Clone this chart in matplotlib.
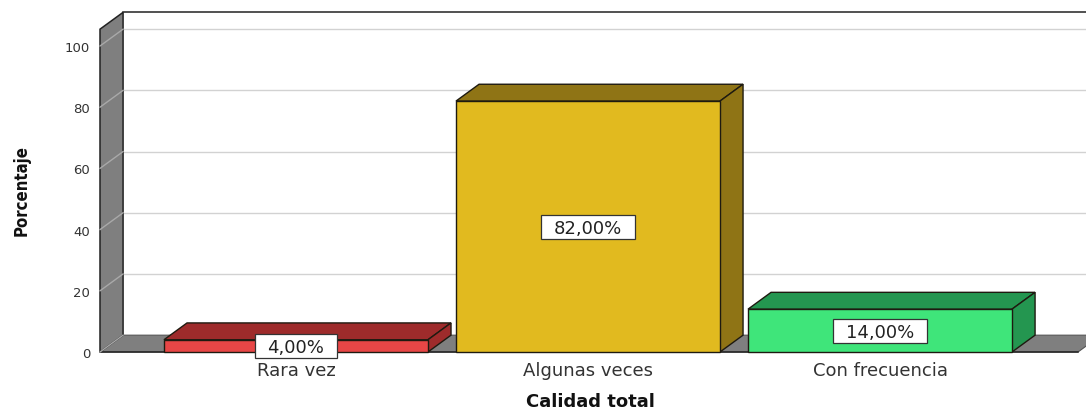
import matplotlib
matplotlib.use("Agg")
import matplotlib.pyplot as plt
from matplotlib.patches import Polygon, Rectangle
from matplotlib.transforms import ScaledTranslation
from matplotlib import font_manager

# ---- data -------------------------------------------------------------
categories = ["Rara vez", "Algunas veces", "Con frecuencia"]
percentages = [4.0, 82.0, 14.0]
value_labels = ["4,00%", "82,00%", "14,00%"]
y_ticks = [0, 20, 40, 60, 80, 100]
x_title = "Calidad total"
y_title = "Porcentaje"

# ---- style ------------------------------------------------------------
front_colors = ["#E84646", "#E1BA1F", "#3FE57A"]
shade_colors = ["#9E2B2B", "#8F7415", "#249650"]
wall_color = "#7F7F7F"
edge_color = "#1E1A10"

XL, XR = -0.671, 2.678      # front floor extent (data x)
TOP = 105.5                  # wall height (data y)
DX, DY = 0.079, 5.5          # depth offset of the pseudo-3D box
BAR_W = 0.904
LABEL_SIZE = 13

fig = plt.figure(figsize=(10.86, 4.10), dpi=100, facecolor="white")
ax = fig.add_axes([100 / 1086, 57 / 410, 978 / 1086, TOP * 3.06 / 410])
ax.patch.set_visible(False)
ax.set_xlim(XL, XR)
ax.set_ylim(0, TOP)
for s in ax.spines.values():
    s.set_visible(False)


def poly(points, fc, ec=edge_color, lw=1.0, z=1):
    ax.add_patch(Polygon(points, closed=True, facecolor=fc, edgecolor=ec,
                         linewidth=lw, zorder=z, clip_on=False,
                         joinstyle="miter"))


# back wall
poly([(XL + DX, DY), (XR + DX, DY), (XR + DX, TOP + DY), (XL + DX, TOP + DY)],
     "white", ec="none", z=0)
ax.plot([XL + DX, XR + DX], [TOP + DY] * 2, color="#222222", lw=1.1,
        zorder=0.5, clip_on=False)
for v in y_ticks[1:]:
    ax.plot([XL + DX, XR + DX], [v + DY] * 2, color="#D2D2D2", lw=1.0,
            zorder=0.6, clip_on=False)

# floor and left wall
poly([(XL, 0), (XR, 0), (XR + DX, DY), (XL + DX, DY)], wall_color,
     ec="#555555", lw=0.8, z=1)
poly([(XL, 0), (XL, TOP), (XL + DX, TOP + DY), (XL + DX, DY)], wall_color,
     ec="#222222", lw=1.1, z=1.1)
ax.plot([XL, XR], [0, 0], color="#222222", lw=1.1, zorder=1.2, clip_on=False)
for v in y_ticks:
    ax.plot([XL, XL + DX], [v, v + DY], color="#A9A9A9", lw=1.0,
            zorder=1.3, clip_on=False)

# bars with value labels (baseline dropped by half the cap height so the
# digits sit visually centred at value / 2)
cap_px = 0.73 * LABEL_SIZE * fig.dpi / 72
text_tf = ax.transData + ScaledTranslation(0, -cap_px / 2 / fig.dpi,
                                           fig.dpi_scale_trans)
value_texts = []
for i, (v, fc, sc) in enumerate(zip(percentages, front_colors, shade_colors)):
    x0, x1 = i - BAR_W / 2, i + BAR_W / 2
    poly([(x0, v), (x1, v), (x1 + DX, v + DY), (x0 + DX, v + DY)], sc, z=2)
    poly([(x1, 0), (x1 + DX, DY), (x1 + DX, v + DY), (x1, v)], sc, z=2)
    poly([(x0, 0), (x1, 0), (x1, v), (x0, v)], fc, z=2.1)
    t = ax.text(i, v / 2, value_labels[i], ha="center", va="baseline",
                fontsize=LABEL_SIZE, color="#222222", zorder=6,
                transform=text_tf)
    value_texts.append((i, v, t))

# axes text
ax.set_yticks(y_ticks)
ax.tick_params(axis="y", length=0, pad=7, labelsize=9.5, labelcolor="#333333")
ax.set_xticks(range(len(categories)), categories)
ax.tick_params(axis="x", length=0, pad=6.7, labelsize=13, labelcolor="#333333")

cond_bold = [f for f in font_manager.fontManager.ttflist
             if f.name == "DejaVu Sans" and f.stretch == "condensed"
             and f.weight in ("bold", 700)]
if cond_bold:
    ytitle_kw = dict(family="DejaVu Sans", fontstretch="condensed", fontsize=12)
else:
    ytitle_kw = dict(family="DejaVu Sans", fontsize=10.5)
fig.text(22 / 1086, (410 - 191) / 410, y_title, rotation=90, ha="center",
         va="center", fontweight="bold", color="#111111", **ytitle_kw)
fig.text(590 / 1086, (410 - 407) / 410, x_title, ha="center", va="baseline",
         fontsize=13, fontweight="bold", color="#111111")

# white boxes behind the value labels, sized from the rendered text
fig.canvas.draw()
renderer = fig.canvas.get_renderer()
inv = ax.transData.inverted()
for i, v, t in value_texts:
    bb = t.get_window_extent(renderer)
    cx, cy = ax.transData.transform((i, v / 2))
    half_w = bb.width / 2 + 13
    half_h = 12
    (bx0, by0), (bx1, by1) = inv.transform([(cx - half_w, cy - half_h),
                                            (cx + half_w, cy + half_h)])
    ax.add_patch(Rectangle((bx0, by0), bx1 - bx0, by1 - by0,
                           facecolor="white", edgecolor="#333333",
                           linewidth=0.9, zorder=5, clip_on=False))

fig.savefig("out.png", dpi=100, facecolor="white")
